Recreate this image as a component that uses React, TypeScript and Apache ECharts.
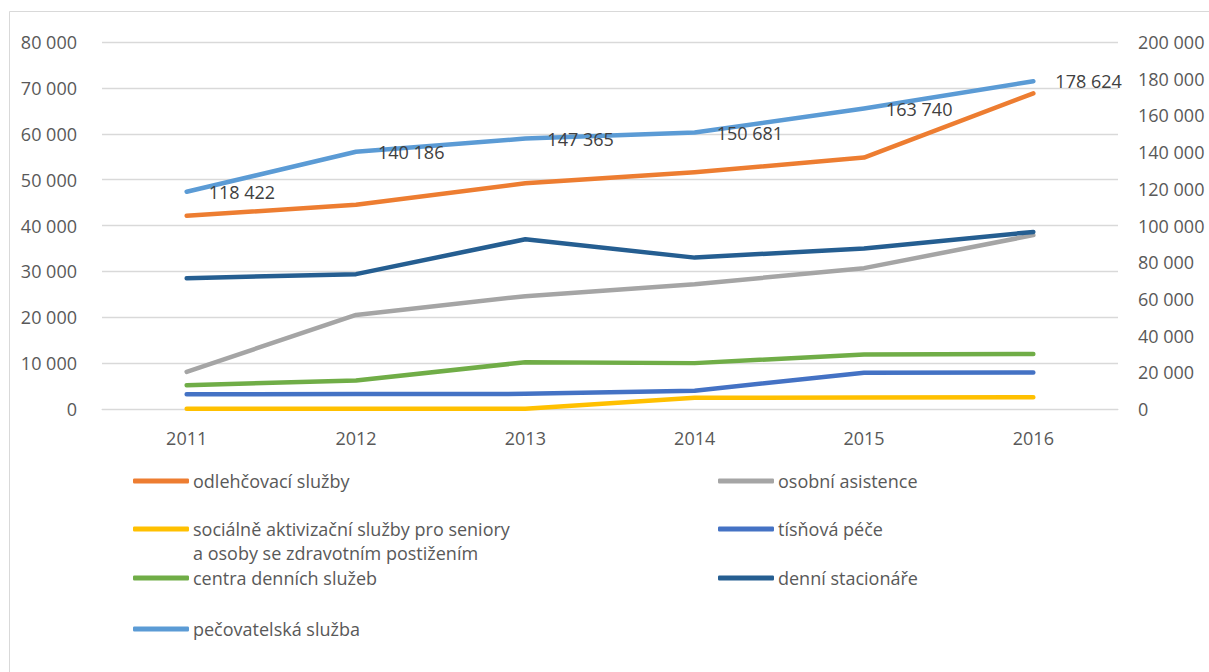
import React, { useEffect, useRef } from "react";
import * as echarts from "echarts";

const years = ["2011", "2012", "2013", "2014", "2015", "2016"];

const seriesNames = [
  "odlehčovací služby",
  "osobní asistence",
  "sociálně aktivizační služby pro seniory a osoby se zdravotním postižením",
  "tísňová péče",
  "centra denních služeb",
  "denní stacionáře",
  "pečovatelská služba",
];

const odlehcovaci = [42100, 44500, 49200, 51600, 54800, 68800];
const osobniAsistence = [8100, 20500, 24600, 27200, 30700, 37900];
const aktivizacni = [50, 50, 50, 2450, 2500, 2550];
const tisnovaPece = [3200, 3250, 3300, 4000, 7900, 7950];
const centraDennich = [5200, 6200, 10200, 10000, 11900, 12000];
const denniStacionare = [28500, 29400, 37000, 33000, 35000, 38600];
const pecovatelska = [118422, 140186, 147365, 150681, 163740, 178624];

const leftTicks = { min: 0, max: 80000, interval: 10000 };
const rightTicks = { min: 0, max: 200000, interval: 20000 };

const colors = ["#ED7D31", "#A5A5A5", "#FFC000", "#4472C4", "#70AD47", "#255E91", "#5B9BD5"];
const seriesData = [odlehcovaci, osobniAsistence, aktivizacni, tisnovaPece, centraDennich, denniStacionare, pecovatelska];
const secondLine = "a osoby se zdravotním postižením";

const FONT = '"Open Sans", sans-serif';
const fmt = (v: number) => String(v).replace(/\B(?=(\d{3})+(?!\d))/g, " ");

// legend layout: [left, rowCenter]
const legendPos: [number, number][] = [
  [133, 481],
  [718, 481],
  [133, 529],
  [718, 529],
  [133, 578],
  [718, 578],
  [133, 629],
];

export default function App() {
  const ref = useRef<HTMLDivElement>(null);
  useEffect(() => {
    document.body.style.margin = "0";
    const chart = echarts.init(ref.current!, undefined, { renderer: "svg" });
    const series: any[] = seriesNames.map((name, i) => ({
      name,
      type: "line",
      data: seriesData[i],
      yAxisIndex: i === 6 ? 1 : 0,
      color: colors[i],
      showSymbol: i === 6,
      symbol: "circle",
      symbolSize: i === 6 ? 0.01 : 4,
      itemStyle: { color: colors[i] },
      lineStyle: { width: 4.5, cap: "round", join: "round", color: colors[i] },
      label:
        i === 6
          ? {
              show: true,
              position: "right",
              distance: 22,
              color: "#404040",
              fontSize: 18,
              fontFamily: FONT,
              formatter: (p: any) => fmt(p.value),
            }
          : { show: false },
      z: 2 + i,
    }));
    chart.setOption({
      animation: false,
      textStyle: { fontFamily: FONT },
      grid: { left: 102, right: 91, top: 42, bottom: 263 },
      xAxis: {
        type: "category",
        data: years,
        boundaryGap: true,
        axisLine: { show: true, lineStyle: { color: "#d9d9d9", width: 1 } },
        axisTick: { show: false },
        axisLabel: { color: "#595959", fontSize: 18, fontFamily: FONT, margin: 20 },
      },
      yAxis: [
        {
          type: "value",
          ...leftTicks,
          axisLine: { show: false },
          axisTick: { show: false },
          splitLine: { lineStyle: { color: "#d9d9d9", width: 1.3 } },
          axisLabel: { color: "#595959", fontSize: 18, fontFamily: FONT, margin: 25, formatter: fmt },
        },
        {
          type: "value",
          ...rightTicks,
          position: "right",
          axisLine: { show: false },
          axisTick: { show: false },
          splitLine: { show: false },
          axisLabel: { color: "#595959", fontSize: 18, fontFamily: FONT, margin: 20, formatter: fmt },
        },
      ],
      legend: seriesNames.map((name, i) => ({
        data: [name],
        left: legendPos[i][0],
        top: legendPos[i][1] - 12,
        padding: 0,
        icon: "roundRect",
        itemWidth: 56,
        itemHeight: 5,
        selectedMode: false,
        formatter: (n: string) => (i === 2 ? "sociálně aktivizační služby pro seniory" : n),
        textStyle: { color: "#595959", fontSize: 18, fontFamily: FONT, lineHeight: 24, padding: [0, 0, 0, -1] },
      })),
      graphic: [
        {
          type: "rect",
          shape: { x: 9.5, y: 11.5, width: 1215, height: 680 },
          style: { fill: "none", stroke: "#d9d9d9", lineWidth: 1 },
          silent: true,
        },
        {
          type: "text",
          x: 193,
          y: 553,
          style: {
            text: secondLine,
            fill: "#595959",
            fontSize: 18,
            fontFamily: FONT,
            verticalAlign: "middle",
            align: "left",
          },
        },
      ],
      series,
    });
    return () => chart.dispose();
  }, []);
  return <div ref={ref} style={{ width: 1209, height: 672 }} />;
}
